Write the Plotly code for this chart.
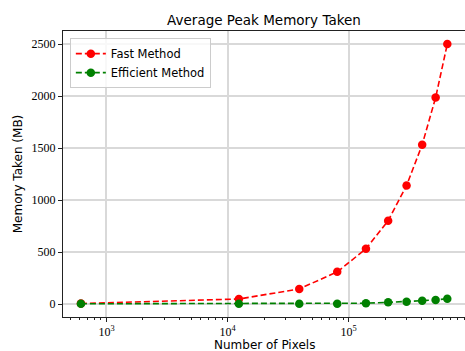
import plotly.graph_objects as go

pixels = [615, 12400, 39100, 80500, 139000, 212000, 301000, 405000, 523000, 653000]
fast_mem = [5, 48, 145, 309, 531, 801, 1139, 1532, 1985, 2500]
eff_mem = [2, 2, 2, 3, 8, 16, 22, 32, 39, 51]

x_tickvals = [1e3, 1e4, 1e5]
x_ticktext = ["10<sup>3</sup>", "10<sup>4</sup>", "10<sup>5</sup>"]
y_tickvals = [0, 500, 1000, 1500, 2000, 2500]

minor_vals = [m * 10 ** e for e in range(2, 6) for m in range(2, 10)]

fig = go.Figure()
fig.add_trace(go.Scatter(
    x=pixels, y=fast_mem, name="Fast Method", mode="lines+markers",
    line=dict(color="#ff0000", width=1.6, dash="6px,3px"),
    marker=dict(color="#ff0000", size=8.5),
))
fig.add_trace(go.Scatter(
    x=pixels, y=eff_mem, name="Efficient Method", mode="lines+markers",
    line=dict(color="#008000", width=1.6, dash="6px,3px"),
    marker=dict(color="#008000", size=8.5),
))

sans = "DejaVu Sans"
serif = "Liberation Serif"

H = 351
T, B = 31, 34
plot_h = H - T - B

fig.update_layout(
    width=465, height=H,
    margin=dict(l=63, r=0, t=T, b=B),
    plot_bgcolor="white", paper_bgcolor="white",
    title=dict(text="Average Peak Memory Taken", x=0.5, xref="paper",
               y=1 - 20 / H, yanchor="middle",
               font=dict(family=sans, size=13.5, color="black")),
    legend=dict(x=0.017, y=0.975, xanchor="left", yanchor="top",
                bgcolor="rgba(255,255,255,0.8)", bordercolor="#cccccc", borderwidth=1,
                font=dict(family=sans, size=11.5, color="black"), tracegroupgap=0),
    showlegend=True,
    annotations=[dict(text="Number of Pixels", xref="paper", yref="paper",
                      x=0.5, y=-(345 - (H - B)) / plot_h, xanchor="center", yanchor="middle",
                      showarrow=False,
                      font=dict(family=sans, size=12, color="black"))],
)

fig.update_xaxes(
    type="log", range=[2.641, 5.961],
    tickvals=x_tickvals, ticktext=x_ticktext,
    tickfont=dict(family=serif, size=12, color="black"),
    ticks="outside", ticklen=4, tickcolor="#222",
    showline=True, mirror=True, linecolor="#222", linewidth=1,
    showgrid=True, gridcolor="#d9d9d9", gridwidth=1.5,
    zeroline=False,
    minor=dict(tickvals=minor_vals, ticks="outside", ticklen=2, tickcolor="#222", showgrid=False),
    automargin=False,
)
fig.update_yaxes(
    range=[-125, 2625],
    tickvals=y_tickvals,
    tickfont=dict(family=serif, size=12, color="black"),
    ticks="outside", ticklen=4, tickcolor="#222",
    showline=True, mirror=True, linecolor="#222", linewidth=1,
    showgrid=True, gridcolor="#d9d9d9", gridwidth=1.5,
    zeroline=False,
    title=dict(text="Memory Taken (MB)", font=dict(family=sans, size=12, color="black"), standoff=6),
    automargin=False,
)

fig.write_html("out.html")
